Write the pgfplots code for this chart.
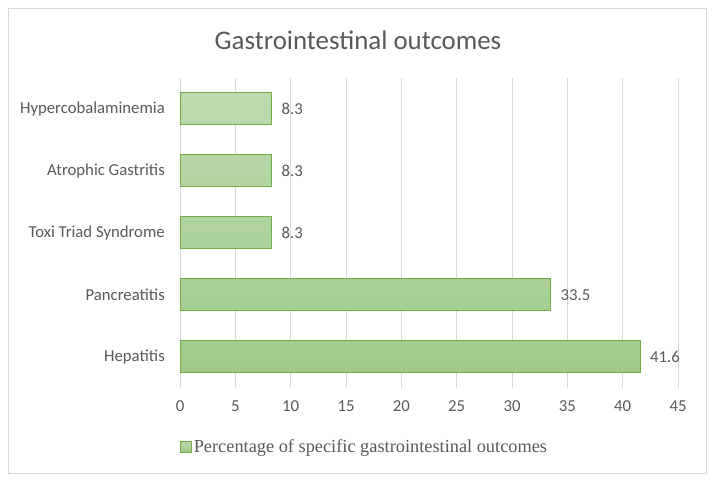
\documentclass[border=0pt]{standalone}
\usepackage{pgfplots}
\pgfplotsset{compat=1.18}
\usepackage{fontspec}
\setmainfont{Carlito}
\newfontfamily\legendfont{Liberation Serif}
\definecolor{txt}{HTML}{595959}
\definecolor{gridc}{HTML}{D9D9D9}
\definecolor{bartop}{HTML}{BCDAAF}
\definecolor{barbot}{HTML}{A0CA8B}
\definecolor{barline}{HTML}{70AD47}
\begin{document}
\begin{tikzpicture}[x=1bp,y=1bp]
\useasboundingbox (0,0) rectangle (714,484);
\draw[gridc, line width=1bp] (8.5,10) rectangle (706,475);
\node[txt, font=\fontsize{27}{30}\selectfont] at (358,444) {Gastrointestinal outcomes};
\begin{axis}[
  at={(180bp,96bp)}, anchor=south west,
  scale only axis, width=498bp, height=310bp,
  xbar, bar width=32bp,
  xmin=0, xmax=45, xtick={0,5,...,45},
  ymin=-0.5, ymax=4.5,
  ytick={0,1,2,3,4},
  yticklabels={Hepatitis, Pancreatitis, Toxi Triad Syndrome, Atrophic Gastritis, Hypercobalaminemia},
  xmajorgrids, grid style={gridc, line width=1bp},
  axis line style={draw=none},
  major tick length=0pt,
  tick style={draw=none},
  /pgf/number format/assume math mode=true,
  ticklabel style={txt, font=\fontsize{16.8}{19}\selectfont},
  yticklabel style={inner xsep=0pt, xshift=-15bp},
  xticklabel style={yshift=-9bp},
  nodes near coords,
  nodes near coords style={txt, font=\fontsize{16.8}{19}\selectfont, anchor=west, xshift=6bp},
  point meta=explicit symbolic,
  legend style={at={(0,-0.19)}, anchor=west, draw=none, fill=none, inner xsep=0pt,
    font=\legendfont\fontsize{18.4}{21}\selectfont, text=txt},
  legend image code/.code={\draw[fill=barbot!85!white, draw=barline, line width=0.6bp] (0bp,-5.5bp) rectangle (11bp,5.5bp);},
]
\addplot[draw=barline, line width=1bp, top color=bartop, bottom color=barbot]
  coordinates {(41.6,0) [41.6] (33.5,1) [33.5] (8.3,2) [8.3] (8.3,3) [8.3] (8.3,4) [8.3]};
\addlegendentry{Percentage of specific gastrointestinal outcomes}
\end{axis}
\end{tikzpicture}
\end{document}
